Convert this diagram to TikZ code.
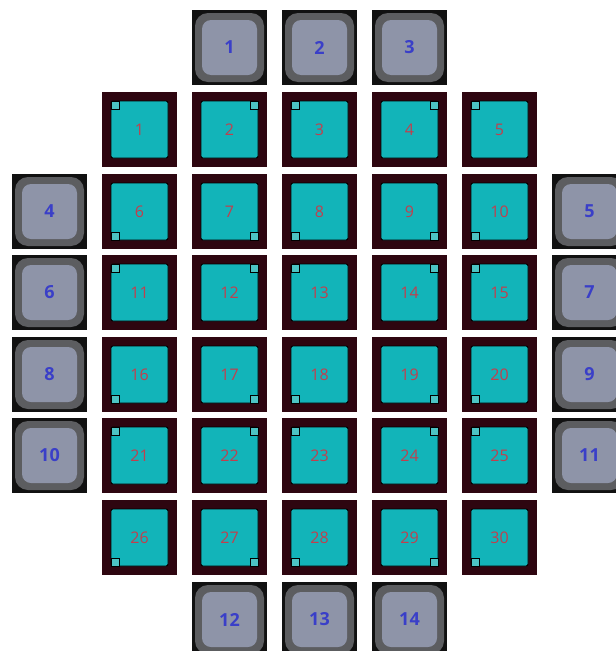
\documentclass[tikz,border=0pt]{standalone}
\usepackage{fontspec}
\setmainfont{Open Sans}
\definecolor{cellbd}{HTML}{2E0610}
\definecolor{cellfill}{HTML}{12B4B9}
\definecolor{cellmark}{HTML}{4CC3C3}
\definecolor{cellnum}{HTML}{C0404E}
\definecolor{padout}{HTML}{111111}
\definecolor{padring}{HTML}{5C5D60}
\definecolor{padfill}{HTML}{8E94A8}
\definecolor{padnum}{HTML}{3A3FC8}
\tikzset{
  cellouter/.style={fill=cellbd, draw=none, minimum size=75pt, inner sep=0pt, outer sep=0pt},
  cellinner/.style={fill=cellfill, draw=black, line width=0.9pt, rounded corners=2pt, minimum size=57pt, inner sep=0pt, outer sep=0pt, text=cellnum, font=\fontsize{16}{16}\selectfont},
  cellmarkbox/.style={fill=cellmark, draw=black, line width=0.8pt},
  padouter/.style={fill=padout, draw=none, minimum size=75pt, inner sep=0pt, outer sep=0pt},
  padringbox/.style={fill=padring, draw=none, rounded corners=13pt, minimum size=69pt, inner sep=0pt},
  padinner/.style={fill=padfill, draw=none, rounded corners=9pt, minimum size=55pt, inner sep=0pt, text=padnum, font=\fontsize{18}{18}\selectfont\bfseries}
}
\begin{document}
\begin{tikzpicture}[x=1pt,y=-1pt]
\useasboundingbox (0,0) rectangle (616,651);
\fill[white] (0,0) rectangle (616,651);
% teal cells
\foreach \r/\ry in {1/92,2/174,3/255,4/337,5/418,6/500}{
  \foreach \c/\cx in {1/102,2/192,3/282,4/372,5/462}{
    \pgfmathtruncatemacro{\n}{(\r-1)*5+\c}
    \node[cellouter] (co\n) at (\cx+37.5,\ry+37.5) {};
    \node[cellinner] (ci\n) at (co\n.center) {\n};
    \pgfmathtruncatemacro{\rodd}{mod(\r,2)}
    \pgfmathtruncatemacro{\codd}{mod(\c,2)}
    \ifnum\rodd=1
      \ifnum\codd=1
        \draw[cellmarkbox] (ci\n.north west) rectangle ++(8,8);
      \else
        \draw[cellmarkbox] (ci\n.north east) rectangle ++(-8,8);
      \fi
    \else
      \ifnum\codd=1
        \draw[cellmarkbox] (ci\n.south west) rectangle ++(8,-8);
      \else
        \draw[cellmarkbox] (ci\n.south east) rectangle ++(-8,-8);
      \fi
    \fi
  }
}
% grey pads
\foreach \n/\px/\py in {1/192/10,2/282/10,3/372/10,
  4/12/174,5/552/174,6/12/255,7/552/255,8/12/337,9/552/337,10/12/418,11/552/418,
  12/192/582,13/282/582,14/372/582}{
  \node[padouter] (po\n) at (\px+37.5,\py+37.5) {};
  \node[padringbox] (pr\n) at (po\n.center) {};
  \node[padinner] (pi\n) at (po\n.center) {\n};
}
\end{tikzpicture}
\end{document}
